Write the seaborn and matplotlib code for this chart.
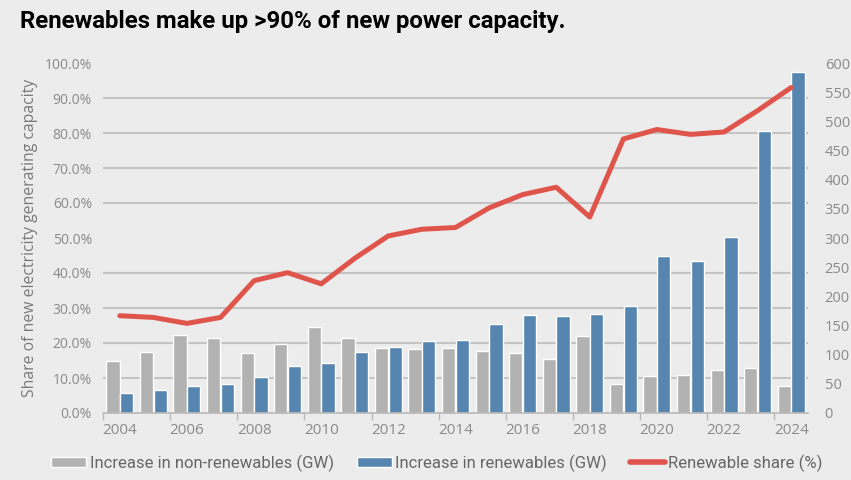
import numpy as np
import pandas as pd
import seaborn as sns
import matplotlib.pyplot as plt
from matplotlib.ticker import MultipleLocator, FuncFormatter, FixedLocator
from matplotlib.patches import Patch
from matplotlib.lines import Line2D

# valores
anos = [str(a) for a in range(2004, 2025)]
nao_renovaveis = [89, 105, 134, 129, 103, 119, 147, 129, 112, 110, 111,
                  106, 103, 92, 132, 50, 63, 66, 74, 78, 46]
renovaveis = [34, 39, 46, 49, 62, 80, 86, 104, 114, 123, 126,
              152, 168, 166, 170, 183, 270, 261, 302, 483, 584]
participacao = [27.8, 27.3, 25.6, 27.3, 37.8, 40.1, 36.9, 44.2, 50.6, 52.5, 53.0,
                58.6, 62.4, 64.5, 56.0, 78.3, 81.0, 79.6, 80.3, 86.4, 93.0]

rotulos = ['Increase in non-renewables (GW)', 'Increase in renewables (GW)', 'Renewable share (%)']

fundo = '#ececec'
cinza = '#b2b2b2'
azul = '#5686b0'
vermelho = '#e0554b'
texto = '#8a8a8a'

df = pd.DataFrame({
    'ano': anos * 2,
    'gw': nao_renovaveis + renovaveis,
    'tipo': [rotulos[0]] * len(anos) + [rotulos[1]] * len(anos),
})

sns.set_style('white')
plt.rcParams['font.family'] = ['Open Sans', 'DejaVu Sans']

fig = plt.figure(figsize=(8.51, 4.8), dpi=100, facecolor=fundo)
ax = fig.add_axes([103 / 851, 67 / 480, 705 / 851, 350 / 480])
ax.set_facecolor(fundo)

# barras no eixo de baixo (GW, escala da direita)
sns.barplot(data=df, x='ano', y='gw', hue='tipo', palette=[cinza, azul],
            saturation=1, width=0.82, gap=0.04, legend=False, ax=ax)
ax.set_ylim(0, 600)
ax.set_xlim(-0.5, len(anos) - 0.5)
ax.set_xlabel('')
ax.set_ylabel('')

# eixo x: rotulos a cada dois anos, tracinhos nas divisas
ax.xaxis.set_major_locator(FixedLocator(range(0, len(anos), 2)))
ax.set_xticklabels(anos[::2])
ax.xaxis.set_minor_locator(FixedLocator(np.arange(-0.5, len(anos), 2)))
ax.tick_params(axis='x', which='major', length=0, pad=7, labelsize=11, labelcolor=texto)
ax.tick_params(axis='x', which='minor', length=5, width=1, color='#b8b8b8', bottom=True)

for s in ['top', 'left', 'right']:
    ax.spines[s].set_visible(False)
ax.spines['bottom'].set_color('#b8b8b8')
ax.spines['bottom'].set_linewidth(1.2)

# linha de participacao no eixo gemeo (escala da esquerda)
ax2 = ax.twinx()
sns.lineplot(x=np.arange(len(anos)), y=participacao, color=vermelho, linewidth=3.6, ax=ax2)
ax2.set_ylim(0, 100)
ax2.yaxis.tick_left()
ax2.yaxis.set_label_position('left')
ax2.yaxis.set_major_locator(MultipleLocator(10))
ax2.yaxis.set_major_formatter(FuncFormatter(lambda v, p: f'{v:.1f}%'))
ax2.tick_params(axis='y', length=0, pad=8, labelsize=10, labelcolor=texto)
ax2.set_ylabel('Share of new electricity generating capacity', fontsize=11.3, color='#7a7a7a', labelpad=5)
for s in ax2.spines.values():
    s.set_visible(False)

# escala GW na direita (depois do twinx)
ax.yaxis.tick_right()
ax.yaxis.set_major_locator(MultipleLocator(50))
ax.yaxis.set_minor_locator(MultipleLocator(60))
ax.grid(which='minor', axis='y', color='#c4c4c4', linewidth=1.5)
ax.grid(which='major', axis='y', visible=False)
ax.set_axisbelow(True)
ax.tick_params(axis='y', which='both', length=0, pad=12, labelsize=10.5, labelcolor=texto,
               left=False, labelleft=False, right=True, labelright=True)

fig.text(20 / 851, 1 - 10 / 480, 'Renewables make up >90% of new power capacity.',
         fontsize=17.3, fontweight='bold', family=['Roboto', 'DejaVu Sans'], va='top', ha='left', color='black')

alcas = [Patch(facecolor=cinza), Patch(facecolor=azul), Line2D([0], [0], color=vermelho, linewidth=4)]
fig.legend(alcas, rotulos, loc='center', bbox_to_anchor=(437 / 851, 17 / 480), ncol=3, frameon=False,
           prop={'family': ['Roboto', 'DejaVu Sans'], 'size': 12}, labelcolor='#666666',
           handlelength=2.1, handleheight=0.6, handletextpad=0.2, columnspacing=1.4)

fig.savefig('out.png', dpi=100, facecolor=fundo)
